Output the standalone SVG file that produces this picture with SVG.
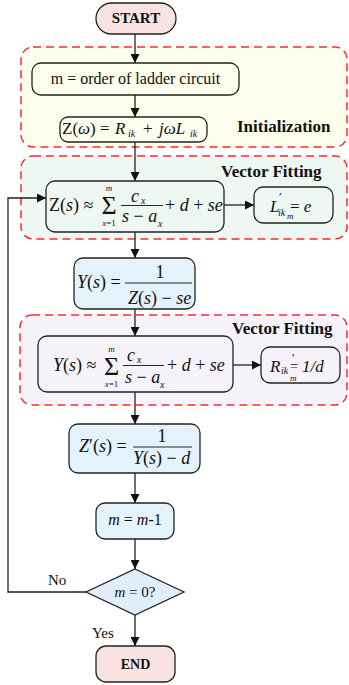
<svg xmlns="http://www.w3.org/2000/svg" width="349" height="685" viewBox="0 0 349 685">
<style>
text{font-family:"Liberation Serif","Times New Roman",serif;fill:#111}
.i{font-style:italic}
.b{font-weight:bold}
.m{font-size:17px}
.sub{font-size:10px}
.tiny{font-size:9px}
.region{stroke:#ff2a2a;stroke-width:1.5;stroke-dasharray:8 5}
.box{stroke:#222;stroke-width:1.3}
.conn{stroke:#222;stroke-width:1.3;fill:none}
.frac{stroke:#111;stroke-width:0.9}
</style>
<defs>
<marker id="ah" viewBox="0 0 10 10" refX="10" refY="5" markerWidth="9" markerHeight="9" markerUnits="userSpaceOnUse" orient="auto">
<path d="M0,0 L10,5 L0,10 z" fill="#111"/>
</marker>
</defs>

<!-- regions -->
<g id="region-init">
<rect class="region" x="21" y="47" width="326" height="100" rx="12" fill="#fdfdee"/>
<text class="b" x="237" y="132" font-size="17">Initialization</text>
</g>
<g id="region-vf1">
<rect class="region" x="21" y="156" width="326" height="83" rx="12" fill="#eef7f1"/>
<text class="b" x="221" y="177" font-size="17">Vector Fitting</text>
</g>
<g id="region-vf2">
<rect class="region" x="20" y="315" width="327" height="90" rx="12" fill="#f5f3f9"/>
<text class="b" x="232" y="334" font-size="17">Vector Fitting</text>
</g>

<!-- connectors -->
<g id="connectors">
<line class="conn" x1="135" y1="34" x2="135" y2="63" marker-end="url(#ah)"/>
<line class="conn" x1="135" y1="95" x2="135" y2="117" marker-end="url(#ah)"/>
<line class="conn" x1="135" y1="142" x2="135" y2="181" marker-end="url(#ah)"/>
<line class="conn" x1="224" y1="205" x2="254" y2="205" marker-end="url(#ah)"/>
<line class="conn" x1="135" y1="232" x2="135" y2="258" marker-end="url(#ah)"/>
<line class="conn" x1="135" y1="309" x2="135" y2="336" marker-end="url(#ah)"/>
<line class="conn" x1="233" y1="365" x2="261" y2="365" marker-end="url(#ah)"/>
<line class="conn" x1="135" y1="392" x2="135" y2="424" marker-end="url(#ah)"/>
<line class="conn" x1="135" y1="473" x2="135" y2="503" marker-end="url(#ah)"/>
<line class="conn" x1="135" y1="539" x2="135" y2="569" marker-end="url(#ah)"/>
<line class="conn" x1="135" y1="615" x2="135" y2="646" marker-end="url(#ah)"/>
<polyline class="conn" points="86,592 8,592 8,198 46,198" marker-end="url(#ah)"/>
<text x="48" y="585" font-size="15">No</text>
<text x="92" y="638" font-size="15">Yes</text>
</g>

<!-- nodes -->
<g id="start">
<rect class="box" x="96" y="3" width="80" height="31" rx="15.5" fill="#f8e3e3"/>
<text class="b" x="136" y="23" font-size="15" text-anchor="middle">START</text>
</g>

<g id="order">
<rect class="box" x="32" y="63" width="207" height="32" rx="9" fill="#fdfdee"/>
<text x="135.5" y="84" font-size="16" text-anchor="middle">m = order of ladder circuit</text>
</g>

<g id="zomega">
<rect class="box" x="60" y="117" width="147" height="25" rx="8" fill="#fdfdee"/>
<text class="m" x="62" y="134">Z(<tspan class="i">ω</tspan>) =</text>
<text class="m i" x="115" y="134">R</text>
<text class="sub i" x="128" y="137">ik</text>
<text class="m" x="143" y="134">+</text>
<text class="m i" x="159" y="134">jωL</text>
<text class="sub i" x="190" y="137">ik</text>
</g>

<g id="zfit">
<rect class="box" x="46" y="181" width="178" height="51" rx="9" fill="#eef7f1"/>
<text x="49" y="211" font-size="18">Z(<tspan class="i">s</tspan>) ≈</text>
<text x="109" y="214" font-size="26" text-anchor="middle">Σ</text>
<text class="tiny i" x="109" y="191" text-anchor="middle">m</text>
<text class="tiny" x="109" y="226" text-anchor="middle"><tspan class="i">x</tspan>=1</text>
<text class="i" x="131" y="202" font-size="18">c</text>
<text class="sub i" x="141" y="204">x</text>
<line class="frac" x1="121" y1="205.5" x2="163" y2="205.5"/>
<text x="122" y="222" font-size="18"><tspan class="i">s</tspan> − <tspan class="i">a</tspan></text>
<text class="sub i" x="158" y="227">x</text>
<text x="165" y="211" font-size="18">+ <tspan class="i">d</tspan> + <tspan class="i">se</tspan></text>
</g>

<g id="lbox">
<rect class="box" x="254" y="187" width="79" height="36" rx="9" fill="#eef7f1"/>
<text class="i" x="270" y="212" font-size="17">L</text>
<text x="279" y="201" font-size="12">′</text>
<text class="sub i" x="278" y="216">ik</text>
<text class="tiny i" x="287" y="219">m</text>
<text x="290" y="212" font-size="17">= <tspan class="i">e</tspan></text>
</g>

<g id="yinv">
<rect class="box" x="74" y="258" width="121" height="51" rx="9" fill="#e4f3fb"/>
<text x="77" y="288" font-size="18"><tspan class="i">Y</tspan>(<tspan class="i">s</tspan>) =</text>
<text x="160" y="278" font-size="18" text-anchor="middle">1</text>
<line class="frac" x1="125" y1="283" x2="192" y2="283"/>
<text x="128" y="304" font-size="18"><tspan class="i">Z</tspan>(<tspan class="i">s</tspan>) − <tspan class="i">se</tspan></text>
</g>

<g id="yfit">
<rect class="box" x="38" y="336" width="195" height="56" rx="9" fill="#f5f3f9"/>
<text x="53" y="371" font-size="18"><tspan class="i">Y</tspan>(<tspan class="i">s</tspan>) ≈</text>
<text x="111.5" y="375" font-size="26" text-anchor="middle">Σ</text>
<text class="tiny i" x="111.5" y="352" text-anchor="middle">m</text>
<text class="tiny" x="111.5" y="387" text-anchor="middle"><tspan class="i">x</tspan>=1</text>
<text class="i" x="127" y="361" font-size="18">c</text>
<text class="sub i" x="137" y="363">x</text>
<line class="frac" x1="123" y1="365.5" x2="164" y2="365.5"/>
<text x="125" y="383" font-size="18"><tspan class="i">s</tspan> − <tspan class="i">a</tspan></text>
<text class="sub i" x="160" y="388">x</text>
<text x="167" y="371" font-size="18">+ <tspan class="i">d</tspan> + <tspan class="i">se</tspan></text>
</g>

<g id="rbox">
<rect class="box" x="261" y="347" width="79" height="36" rx="9" fill="#f5f3f9"/>
<text class="i" x="270" y="372" font-size="17">R</text>
<text class="sub i" x="281" y="374">ik</text>
<text x="292" y="362" font-size="12">′</text>
<text x="290" y="371" font-size="14">=</text>
<text class="tiny i" x="290" y="381">m</text>
<text class="i" x="302" y="372" font-size="17">1/d</text>
</g>

<g id="zprime">
<rect class="box" x="69" y="424" width="131" height="49" rx="9" fill="#e4f3fb"/>
<text x="79" y="452" font-size="18"><tspan class="i">Z</tspan>′(<tspan class="i">s</tspan>) =</text>
<text x="162" y="442" font-size="18" text-anchor="middle">1</text>
<line class="frac" x1="133" y1="447" x2="192" y2="447"/>
<text x="133" y="464" font-size="18"><tspan class="i">Y</tspan>(<tspan class="i">s</tspan>) − <tspan class="i">d</tspan></text>
</g>

<g id="decrement">
<rect class="box" x="96" y="503" width="78" height="36" rx="9" fill="#e4f3fb"/>
<text x="135" y="525" font-size="16" text-anchor="middle"><tspan class="i">m</tspan> = <tspan class="i">m</tspan>-1</text>
</g>

<g id="decision">
<polygon class="box" points="135,569 184,592 135,615 86,592" fill="#dfeefa"/>
<text x="135" y="597" font-size="15" text-anchor="middle"><tspan class="i">m</tspan> = 0?</text>
</g>

<g id="end">
<rect class="box" x="96" y="646" width="79" height="36" rx="10" fill="#f8e3e3"/>
<text class="b" x="135.5" y="669" font-size="14" text-anchor="middle">END</text>
</g>
</svg>
